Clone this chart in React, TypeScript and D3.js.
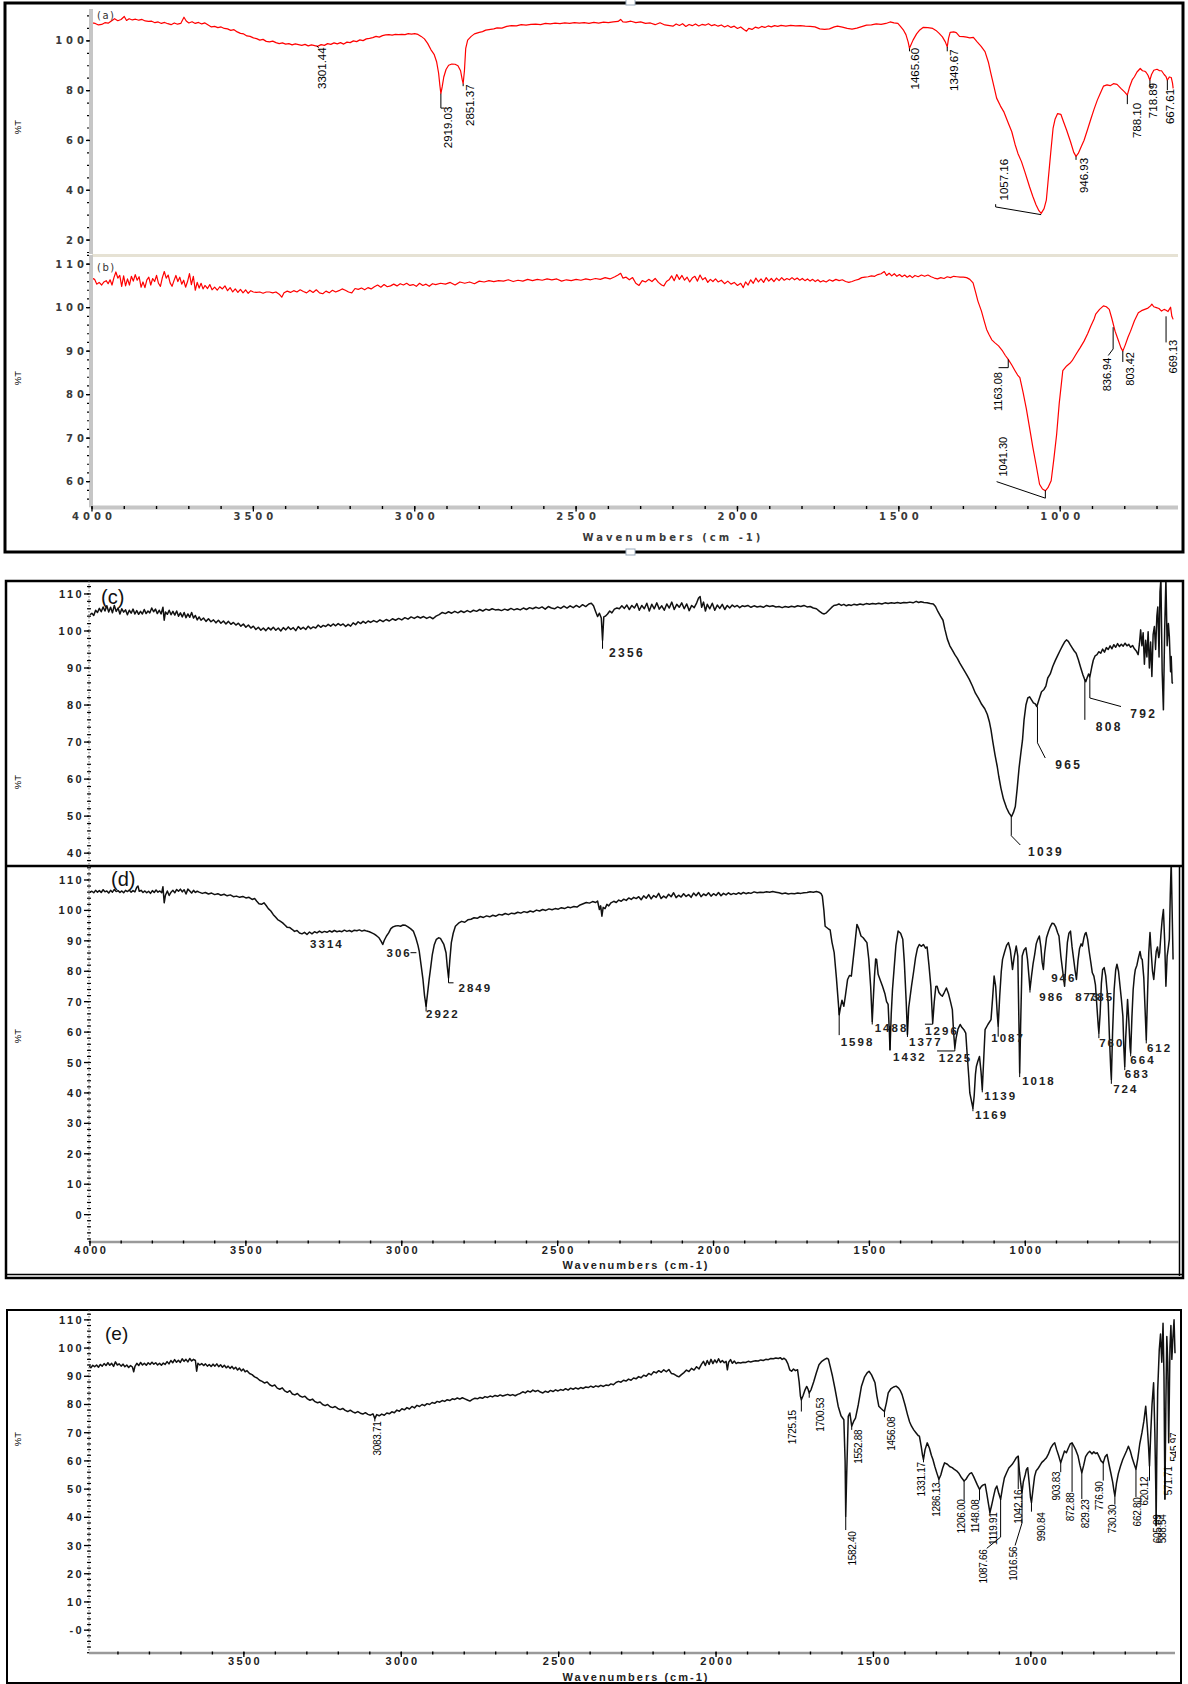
import React from "react";
import * as d3 from "d3";

type P = [number, number];
type Lab = { t: string; x: number; y: number; L?: P[] };

// ---------------- spectra (wavenumber, %T) ----------------
const specA: P[] = [[4000,107.2],[3990,107.0],[3980,106.4],[3970,106.6],[3960,107.3],[3950,107.1],[3940,108.0],[3930,108.9],[3920,108.1],[3910,108.6],[3900,109.8],[3893,108.2],[3885,108.9],[3875,108.4],[3865,108.7],[3855,108.3],[3845,108.6],[3835,108.0],[3825,107.8],[3815,107.9],[3805,107.3],[3795,107.6],[3785,107.0],[3775,107.4],[3765,106.9],[3755,106.5],[3745,107.2],[3735,106.7],[3725,107.0],[3715,109.5],[3708,108.0],[3700,107.2],[3690,107.7],[3680,107.0],[3670,107.4],[3660,106.8],[3650,107.2],[3640,106.4],[3630,105.6],[3620,105.8],[3610,105.3],[3600,105.6],[3590,105.0],[3580,104.8],[3570,104.2],[3560,104.5],[3550,103.6],[3540,103.0],[3530,102.8],[3520,102.0],[3510,101.8],[3500,101.2],[3490,100.9],[3480,100.3],[3470,100.6],[3460,99.8],[3450,99.6],[3440,99.9],[3430,99.3],[3420,98.9],[3410,99.2],[3400,98.7],[3390,98.9],[3380,98.4],[3370,98.8],[3360,98.5],[3350,98.2],[3340,98.6],[3330,98.0],[3320,98.4],[3310,98.1],[3301,97.8],[3290,98.5],[3280,98.2],[3270,98.9],[3260,98.6],[3250,99.2],[3240,98.8],[3230,99.3],[3220,98.7],[3210,99.5],[3200,99.3],[3190,100.0],[3180,99.7],[3170,100.4],[3160,100.1],[3150,100.8],[3140,101.0],[3130,101.3],[3120,101.8],[3110,101.5],[3100,102.1],[3090,102.4],[3080,102.5],[3070,102.3],[3060,102.6],[3050,102.5],[3040,102.6],[3030,102.5],[3020,102.9],[3010,102.7],[3000,102.9],[2990,102.6],[2980,101.8],[2970,100.8],[2960,99.0],[2950,96.5],[2940,94.6],[2932,91.5],[2926,87.0],[2922,82.0],[2919,78.8],[2915,81.5],[2910,85.5],[2903,88.5],[2895,90.2],[2885,90.7],[2875,90.6],[2866,90.0],[2858,88.0],[2853,84.5],[2850,82.8],[2846,88.0],[2842,97.0],[2836,100.3],[2825,101.8],[2815,102.8],[2800,103.4],[2790,103.7],[2780,104.3],[2770,104.5],[2755,104.8],[2745,105.2],[2730,105.1],[2715,105.8],[2700,106.1],[2685,106.0],[2670,106.5],[2655,106.3],[2640,106.6],[2625,106.7],[2610,106.5],[2595,107.0],[2580,106.8],[2565,107.1],[2550,106.9],[2535,107.2],[2520,107.0],[2505,107.3],[2490,107.1],[2475,107.3],[2460,107.0],[2445,107.4],[2430,107.1],[2415,107.5],[2400,107.3],[2385,107.6],[2370,107.8],[2362,108.6],[2355,107.6],[2345,107.5],[2330,107.9],[2315,107.3],[2300,107.6],[2285,107.0],[2270,107.2],[2255,106.5],[2240,107.3],[2225,106.4],[2210,106.1],[2200,105.9],[2190,106.8],[2180,106.2],[2170,106.9],[2160,105.8],[2150,106.6],[2140,106.1],[2130,106.8],[2120,106.0],[2110,106.6],[2100,106.3],[2090,106.9],[2080,106.1],[2070,106.5],[2060,105.9],[2050,106.4],[2040,105.6],[2030,106.2],[2020,105.4],[2010,105.9],[2000,105.0],[1990,105.6],[1980,104.6],[1972,103.9],[1965,105.0],[1955,104.6],[1945,105.5],[1935,105.1],[1925,105.8],[1915,105.4],[1905,106.0],[1895,105.6],[1885,106.1],[1875,105.8],[1865,106.2],[1850,105.9],[1835,106.2],[1820,106.0],[1805,106.1],[1790,105.9],[1775,105.8],[1760,105.6],[1745,104.8],[1730,104.6],[1715,104.8],[1700,105.6],[1690,105.9],[1675,105.5],[1660,105.0],[1645,104.7],[1630,105.1],[1615,105.7],[1600,106.3],[1585,106.4],[1570,106.8],[1555,106.6],[1540,107.0],[1527,107.6],[1515,107.2],[1503,107.0],[1495,105.8],[1485,104.2],[1478,102.5],[1471,99.5],[1467,97.0],[1462,98.5],[1456,100.3],[1445,102.8],[1435,104.4],[1425,105.4],[1410,105.3],[1395,105.0],[1385,104.2],[1375,103.0],[1365,101.6],[1356,99.6],[1350,97.6],[1346,101.0],[1341,103.4],[1330,103.6],[1322,103.3],[1312,101.8],[1300,101.7],[1290,101.5],[1280,101.2],[1269,101.4],[1258,99.7],[1245,97.8],[1233,95.7],[1222,91.2],[1215,87.0],[1205,81.5],[1197,77.0],[1185,73.8],[1175,71.6],[1161,67.0],[1150,63.5],[1140,58.5],[1131,54.8],[1120,51.5],[1110,47.6],[1095,41.4],[1085,37.6],[1075,34.2],[1066,31.8],[1059,30.7],[1050,32.6],[1043,36.0],[1038,43.0],[1033,50.0],[1028,57.0],[1022,65.0],[1016,68.5],[1008,70.8],[998,70.5],[990,67.6],[980,64.1],[968,59.5],[958,55.2],[951,53.6],[944,54.8],[935,57.5],[926,60.1],[915,64.5],[905,68.6],[895,72.6],[885,76.2],[875,79.2],[866,81.8],[855,82.3],[845,82.0],[835,82.8],[824,82.5],[812,80.9],[800,79.4],[792,78.2],[785,81.5],[777,84.3],[770,85.6],[762,87.5],[752,88.9],[745,88.0],[738,87.8],[734,87.4],[728,86.2],[722,84.2],[717,86.5],[710,88.2],[700,88.6],[692,88.0],[686,88.0],[678,86.5],[672,85.6],[668,84.2],[662,85.5],[656,85.3],[652,83.0],[650,80.9]];

const specB: P[] = [[4000,106.8],[3992,106.5],[3985,105.4],[3978,105.8],[3970,105.2],[3963,105.9],[3956,106.2],[3950,105.5],[3944,106.4],[3938,105.2],[3932,106.9],[3926,108.2],[3920,106.8],[3914,107.4],[3908,104.9],[3902,107.3],[3896,105.0],[3890,106.6],[3884,105.2],[3878,107.2],[3872,106.1],[3866,107.6],[3860,106.3],[3854,107.1],[3848,104.7],[3842,105.9],[3836,104.6],[3830,106.4],[3824,107.0],[3818,105.2],[3812,106.7],[3806,106.0],[3800,107.4],[3794,105.6],[3788,104.9],[3782,106.9],[3776,108.3],[3770,106.8],[3764,107.5],[3758,105.7],[3752,104.9],[3746,106.2],[3740,107.4],[3734,106.0],[3728,107.0],[3722,105.4],[3716,106.3],[3710,104.7],[3704,106.0],[3698,107.8],[3692,105.3],[3686,107.2],[3680,104.0],[3674,105.8],[3668,104.5],[3662,105.6],[3656,104.3],[3650,105.1],[3642,104.4],[3635,105.3],[3628,104.1],[3620,104.7],[3612,104.0],[3604,104.8],[3596,104.3],[3588,105.0],[3580,103.9],[3572,104.6],[3564,103.6],[3556,104.3],[3548,103.5],[3540,104.2],[3532,103.4],[3524,104.1],[3516,103.3],[3508,103.9],[3500,103.6],[3490,103.5],[3480,103.6],[3470,103.3],[3460,103.6],[3450,103.6],[3440,103.4],[3430,103.6],[3420,103.1],[3412,102.4],[3405,103.4],[3395,103.8],[3385,103.5],[3375,103.9],[3365,103.6],[3355,104.1],[3345,103.7],[3335,103.4],[3325,104.0],[3315,103.5],[3305,104.1],[3295,103.4],[3285,103.2],[3275,103.8],[3265,103.4],[3255,104.0],[3245,103.6],[3235,103.9],[3225,104.3],[3215,104.0],[3205,103.6],[3195,103.4],[3185,104.4],[3175,104.2],[3165,104.5],[3155,104.1],[3145,104.6],[3135,104.3],[3125,104.8],[3115,105.2],[3105,104.7],[3095,105.3],[3085,104.8],[3075,105.0],[3065,105.4],[3055,105.0],[3045,105.5],[3035,105.2],[3025,105.6],[3015,105.1],[3005,105.3],[2995,104.9],[2985,105.6],[2975,105.1],[2965,105.4],[2955,104.9],[2945,105.5],[2935,105.3],[2920,105.6],[2905,105.4],[2890,105.8],[2875,105.2],[2860,105.9],[2845,105.6],[2830,105.9],[2815,105.5],[2800,106.1],[2785,105.9],[2770,106.2],[2755,106.0],[2740,106.2],[2725,106.1],[2710,106.4],[2695,106.0],[2680,106.3],[2665,106.1],[2650,106.5],[2635,106.2],[2620,106.5],[2605,106.3],[2590,106.6],[2575,106.4],[2560,106.6],[2545,106.1],[2530,106.4],[2515,106.2],[2500,106.5],[2485,106.3],[2470,106.6],[2455,106.4],[2440,106.7],[2425,106.5],[2410,106.9],[2395,106.6],[2380,107.1],[2370,107.5],[2362,107.9],[2355,106.8],[2345,107.0],[2335,106.4],[2325,106.9],[2315,105.6],[2305,105.1],[2295,106.2],[2285,105.9],[2275,106.5],[2265,106.0],[2255,106.7],[2245,105.8],[2235,105.2],[2228,105.0],[2220,106.0],[2212,106.4],[2204,107.3],[2196,106.2],[2188,107.6],[2180,106.5],[2172,107.4],[2164,106.3],[2156,107.0],[2148,105.9],[2140,106.8],[2132,107.2],[2124,106.1],[2116,107.5],[2108,106.4],[2100,106.9],[2092,105.8],[2084,106.5],[2076,106.0],[2068,106.6],[2060,105.9],[2050,106.3],[2040,105.5],[2030,106.1],[2020,105.4],[2010,105.8],[2000,105.1],[1990,105.6],[1982,104.6],[1975,105.9],[1967,105.2],[1959,106.4],[1951,105.6],[1943,106.8],[1935,105.9],[1927,106.6],[1919,105.8],[1911,106.9],[1903,106.1],[1895,106.7],[1887,106.0],[1879,106.8],[1871,106.2],[1863,106.9],[1855,106.3],[1847,106.7],[1839,106.4],[1831,106.9],[1823,106.4],[1815,106.8],[1807,106.3],[1799,106.7],[1791,106.2],[1783,106.6],[1775,106.1],[1767,106.5],[1759,106.0],[1751,106.4],[1743,105.9],[1735,106.2],[1725,105.9],[1715,106.4],[1705,106.1],[1695,106.5],[1685,106.2],[1675,106.4],[1665,106.0],[1655,105.8],[1645,106.0],[1635,106.3],[1625,106.5],[1615,106.9],[1605,107.0],[1595,107.1],[1585,107.3],[1575,107.2],[1565,107.6],[1555,107.8],[1545,108.3],[1538,107.4],[1530,107.9],[1522,107.3],[1514,107.8],[1506,107.2],[1498,107.6],[1490,107.1],[1482,107.5],[1474,107.0],[1466,107.4],[1458,106.9],[1450,107.4],[1440,107.1],[1430,107.5],[1420,107.2],[1410,107.5],[1400,107.1],[1390,106.8],[1380,106.6],[1370,106.9],[1360,106.7],[1350,107.1],[1340,106.9],[1330,107.2],[1320,107.1],[1310,107.0],[1300,107.0],[1290,106.9],[1280,106.5],[1270,105.7],[1262,103.5],[1255,101.5],[1244,99.2],[1235,96.8],[1228,95.0],[1221,93.9],[1212,92.6],[1202,91.9],[1191,91.2],[1180,90.2],[1170,89.0],[1161,88.1],[1150,86.8],[1140,85.5],[1132,84.5],[1125,83.9],[1115,80.5],[1105,76.8],[1095,72.4],[1085,68.0],[1075,64.0],[1064,59.4],[1055,58.3],[1046,57.9],[1038,58.6],[1028,60.2],[1020,65.0],[1011,70.9],[1003,78.0],[992,85.5],[980,86.6],[970,87.2],[963,87.8],[950,89.4],[938,90.8],[926,92.3],[915,94.0],[905,95.8],[895,97.4],[890,98.5],[878,99.6],[866,100.4],[857,100.2],[848,99.6],[840,97.5],[830,94.6],[820,92.5],[812,90.8],[806,90.0],[798,91.5],[790,93.2],[782,94.6],[770,97.0],[758,98.8],[748,99.3],[738,99.6],[728,99.9],[720,100.4],[716,100.8],[710,100.2],[702,100.0],[694,99.8],[686,99.2],[678,99.6],[672,99.4],[666,99.1],[662,99.6],[658,100.1],[654,98.0],[650,97.3]];

const specC: P[] = [[4000,104.4],[3994,104.8],[3988,104.2],[3982,105.6],[3976,105.0],[3970,106.1],[3964,105.2],[3958,106.5],[3952,105.4],[3946,106.8],[3940,105.1],[3934,106.4],[3928,104.9],[3922,106.9],[3916,105.3],[3910,106.2],[3904,104.6],[3898,106.0],[3892,105.1],[3886,105.7],[3880,104.4],[3874,105.6],[3868,104.8],[3862,105.9],[3856,104.6],[3850,105.5],[3844,104.5],[3838,105.3],[3832,104.6],[3826,105.8],[3820,104.7],[3814,105.4],[3808,104.9],[3802,106.2],[3796,105.2],[3790,105.9],[3784,104.7],[3778,105.6],[3772,104.6],[3766,106.4],[3762,102.9],[3758,105.1],[3752,104.5],[3746,105.6],[3740,104.4],[3734,105.3],[3728,104.3],[3722,105.4],[3716,104.0],[3710,104.9],[3704,103.8],[3698,105.0],[3692,103.6],[3686,104.6],[3680,103.7],[3674,105.0],[3668,103.5],[3662,104.2],[3656,103.0],[3650,103.8],[3644,102.9],[3636,103.5],[3628,102.6],[3620,103.3],[3612,102.5],[3604,103.0],[3596,102.2],[3588,102.9],[3580,102.1],[3572,102.7],[3564,101.9],[3556,102.6],[3548,101.8],[3540,102.3],[3532,101.6],[3524,102.1],[3516,101.3],[3508,101.9],[3500,101.0],[3492,101.6],[3484,100.8],[3476,101.3],[3468,100.4],[3460,101.0],[3452,100.2],[3444,100.8],[3436,100.1],[3428,100.9],[3420,100.3],[3412,101.0],[3404,100.2],[3396,100.8],[3388,100.0],[3380,100.9],[3372,100.3],[3364,101.1],[3356,100.4],[3348,100.9],[3340,100.1],[3332,101.2],[3324,100.5],[3316,101.0],[3308,100.4],[3300,101.3],[3292,100.6],[3284,101.1],[3276,100.8],[3268,101.6],[3260,101.0],[3252,101.5],[3244,101.2],[3236,101.8],[3228,101.3],[3220,101.9],[3212,101.4],[3204,102.0],[3196,101.5],[3188,101.9],[3180,101.2],[3172,101.8],[3164,101.3],[3156,102.2],[3148,101.7],[3140,102.5],[3132,102.0],[3124,102.6],[3116,102.1],[3108,102.7],[3100,102.3],[3090,102.8],[3080,102.4],[3070,103.0],[3060,102.5],[3050,103.1],[3040,102.7],[3030,103.3],[3020,102.9],[3010,103.4],[3000,103.0],[2990,103.6],[2980,103.2],[2970,103.8],[2960,103.4],[2950,103.9],[2940,103.5],[2930,103.9],[2920,103.4],[2910,103.8],[2900,103.3],[2890,104.0],[2880,104.4],[2870,105.0],[2860,104.7],[2850,105.2],[2840,104.8],[2830,105.3],[2820,104.9],[2810,105.4],[2800,105.0],[2790,105.5],[2780,105.1],[2770,105.6],[2760,105.3],[2750,105.8],[2740,105.4],[2730,105.9],[2720,105.6],[2710,106.0],[2700,105.7],[2690,105.8],[2680,105.5],[2670,105.9],[2660,105.6],[2650,106.1],[2640,105.7],[2630,106.0],[2620,105.7],[2610,106.2],[2600,105.8],[2590,106.3],[2580,106.0],[2570,106.4],[2560,106.1],[2550,106.5],[2540,105.9],[2530,106.6],[2520,106.2],[2510,106.0],[2500,106.5],[2490,106.1],[2480,106.7],[2470,106.2],[2460,106.8],[2450,106.3],[2440,106.9],[2430,106.4],[2420,107.1],[2410,106.6],[2400,107.3],[2392,107.5],[2385,106.8],[2378,105.2],[2372,103.9],[2366,104.8],[2360,103.5],[2356,97.5],[2352,103.8],[2347,104.0],[2340,104.6],[2333,105.4],[2326,104.9],[2318,105.9],[2310,106.2],[2302,106.0],[2294,106.8],[2286,106.1],[2278,107.0],[2270,105.8],[2262,106.9],[2254,106.2],[2246,107.4],[2238,105.6],[2230,106.9],[2222,106.0],[2214,107.5],[2206,105.4],[2198,107.2],[2190,106.0],[2182,107.6],[2174,105.9],[2166,106.8],[2158,105.6],[2150,107.3],[2142,106.2],[2134,107.8],[2126,105.8],[2118,107.2],[2110,106.4],[2102,107.6],[2094,106.0],[2086,107.3],[2078,105.5],[2070,106.9],[2062,106.3],[2054,107.6],[2048,108.9],[2043,109.3],[2038,106.4],[2032,107.8],[2026,105.4],[2020,107.2],[2012,106.0],[2004,107.5],[1996,105.6],[1988,107.0],[1980,106.1],[1972,107.2],[1964,105.8],[1956,106.9],[1948,106.2],[1940,107.0],[1932,106.5],[1924,106.9],[1916,106.3],[1908,106.8],[1900,106.6],[1890,106.9],[1880,106.4],[1870,106.8],[1860,106.5],[1850,106.7],[1840,106.4],[1830,106.9],[1820,106.6],[1810,106.8],[1800,106.5],[1790,106.6],[1780,106.3],[1770,106.6],[1760,106.4],[1750,106.7],[1740,106.5],[1730,106.8],[1720,106.6],[1710,106.9],[1700,106.5],[1690,106.6],[1680,106.2],[1670,106.0],[1660,105.3],[1652,104.8],[1645,104.6],[1638,104.9],[1630,105.6],[1622,106.3],[1614,106.9],[1606,107.0],[1598,107.3],[1590,106.9],[1582,107.2],[1574,106.8],[1566,107.1],[1558,106.9],[1550,107.2],[1540,107.0],[1530,107.3],[1520,107.1],[1510,107.4],[1500,107.2],[1490,107.4],[1480,107.3],[1470,107.5],[1460,107.3],[1450,107.6],[1440,107.4],[1430,107.6],[1420,107.5],[1410,107.7],[1400,107.5],[1390,107.7],[1380,107.6],[1370,107.8],[1360,107.6],[1350,108.0],[1342,107.7],[1335,107.9],[1325,107.7],[1315,107.6],[1305,107.4],[1295,107.3],[1288,106.6],[1280,105.2],[1272,104.0],[1264,102.9],[1258,100.5],[1250,97.8],[1242,96.0],[1234,94.8],[1226,93.6],[1218,92.6],[1210,91.3],[1200,89.9],[1190,88.5],[1180,87.0],[1170,85.2],[1160,83.2],[1150,81.8],[1140,80.2],[1130,79.0],[1122,77.5],[1115,75.4],[1110,73.3],[1104,70.0],[1097,66.5],[1090,63.4],[1085,60.7],[1078,57.5],[1070,54.6],[1060,52.2],[1052,50.8],[1044,49.9],[1038,51.0],[1032,52.6],[1026,57.5],[1020,63.0],[1014,67.2],[1009,70.5],[1004,76.0],[998,80.0],[992,81.9],[986,82.2],[980,81.4],[974,80.6],[968,80.3],[963,79.6],[956,81.5],[948,83.6],[940,84.2],[934,85.1],[928,87.3],[920,88.4],[912,90.4],[904,92.0],[896,93.4],[888,94.8],[880,96.1],[874,97.0],[868,97.6],[862,97.2],[856,96.3],[850,95.5],[843,94.6],[837,94.0],[830,92.3],[822,90.0],[815,88.1],[810,87.0],[806,86.3],[802,87.3],[797,88.4],[793,87.6],[787,90.2],[782,92.1],[776,93.3],[770,93.6],[764,94.4],[758,94.0],[752,95.1],[746,94.3],[740,95.5],[734,95.0],[728,96.0],[722,95.2],[716,96.3],[710,95.6],[704,96.6],[698,95.8],[692,96.4],[686,95.9],[680,96.7],[674,96.0],[668,96.4],[662,95.6],[656,96.1],[650,95.2],[644,94.6],[638,93.6],[634,96.5],[630,100.3],[626,96.0],[622,99.5],[618,91.0],[614,97.5],[610,93.0],[606,99.8],[602,90.0],[598,97.0],[594,87.7],[590,99.0],[586,101.2],[582,95.0],[578,104.0],[575,106.5],[571,93.0],[568,110.5],[565,114.0],[561,89.0],[557,78.7],[553,100.0],[549,114.0],[545,96.0],[541,102.0],[538,98.5],[534,89.0],[532,93.1],[529,86.0],[526,85.9]];

const specD: P[] = [[4000,106.0],[3994,106.3],[3988,105.8],[3982,106.6],[3976,106.0],[3970,106.5],[3964,105.9],[3958,106.8],[3952,106.1],[3946,106.4],[3940,105.7],[3934,106.6],[3928,106.0],[3922,106.9],[3916,106.2],[3910,106.5],[3904,105.9],[3898,106.4],[3892,105.8],[3886,106.6],[3880,106.2],[3874,106.7],[3868,106.0],[3862,106.5],[3856,106.1],[3850,107.6],[3846,108.0],[3842,106.3],[3836,106.6],[3830,105.9],[3824,106.4],[3818,105.8],[3812,106.3],[3806,105.6],[3800,106.5],[3794,105.9],[3788,106.7],[3782,106.0],[3776,106.4],[3770,105.8],[3766,107.8],[3762,102.5],[3758,105.0],[3752,106.4],[3746,104.9],[3740,106.0],[3734,106.6],[3728,105.8],[3722,106.9],[3716,106.3],[3710,107.0],[3704,106.1],[3698,106.8],[3692,105.4],[3686,107.0],[3680,106.4],[3674,105.7],[3668,106.6],[3662,105.9],[3656,106.3],[3650,106.0],[3640,105.6],[3630,105.9],[3620,105.4],[3610,105.7],[3600,105.2],[3590,105.5],[3580,105.0],[3570,105.3],[3560,104.8],[3550,105.1],[3540,104.5],[3530,104.7],[3520,104.3],[3510,104.6],[3500,104.1],[3490,104.3],[3480,103.6],[3472,103.9],[3465,103.0],[3458,102.2],[3450,102.0],[3442,102.5],[3435,101.6],[3428,100.6],[3420,99.8],[3412,98.6],[3405,97.8],[3398,97.0],[3390,96.5],[3382,95.9],[3375,95.2],[3368,94.5],[3360,94.4],[3352,93.8],[3344,93.1],[3336,93.4],[3328,92.6],[3320,92.3],[3312,92.8],[3304,92.1],[3296,92.9],[3288,92.3],[3280,93.0],[3272,92.6],[3264,93.2],[3256,92.7],[3248,93.1],[3240,92.8],[3232,93.3],[3224,92.9],[3216,93.4],[3208,93.0],[3200,93.2],[3192,93.0],[3184,93.5],[3176,93.1],[3168,93.4],[3160,93.0],[3152,93.5],[3144,93.3],[3136,93.6],[3128,93.2],[3120,93.5],[3112,93.2],[3104,93.0],[3096,92.6],[3088,92.2],[3080,91.6],[3073,91.0],[3066,89.8],[3061,88.8],[3056,90.2],[3049,91.6],[3042,92.6],[3035,94.0],[3028,94.6],[3020,94.9],[3012,95.0],[3004,94.8],[2996,95.2],[2988,95.1],[2980,94.6],[2972,94.0],[2963,93.2],[2955,91.0],[2948,88.5],[2944,86.6],[2938,82.0],[2932,77.3],[2927,72.0],[2922,68.5],[2917,73.0],[2912,77.5],[2908,80.6],[2902,85.5],[2896,88.6],[2889,90.5],[2882,91.0],[2876,90.8],[2871,89.9],[2865,88.8],[2858,86.1],[2854,81.5],[2850,77.8],[2846,83.5],[2841,89.4],[2835,92.5],[2828,94.8],[2818,95.8],[2808,96.4],[2798,96.1],[2788,96.9],[2778,97.1],[2768,97.6],[2758,97.4],[2748,98.0],[2738,97.7],[2728,98.2],[2718,97.9],[2708,98.4],[2698,98.1],[2688,98.7],[2678,98.5],[2668,99.0],[2658,98.6],[2648,99.1],[2638,98.9],[2628,99.4],[2618,99.1],[2608,99.6],[2598,99.3],[2588,99.8],[2578,99.5],[2568,100.1],[2558,99.8],[2548,100.3],[2538,100.0],[2528,100.5],[2518,100.2],[2508,100.6],[2498,100.4],[2488,100.9],[2478,100.6],[2468,101.1],[2458,100.9],[2448,101.3],[2438,101.1],[2428,101.8],[2418,102.2],[2408,102.6],[2398,102.4],[2388,102.9],[2378,102.6],[2372,103.1],[2366,100.3],[2362,101.5],[2358,98.1],[2354,101.0],[2348,100.6],[2342,102.0],[2336,101.5],[2329,102.5],[2320,103.0],[2312,102.6],[2304,103.4],[2296,103.0],[2288,103.7],[2280,103.3],[2272,104.1],[2264,103.6],[2256,104.3],[2248,103.9],[2240,104.5],[2232,103.5],[2224,104.8],[2216,104.0],[2208,105.2],[2200,103.8],[2192,104.9],[2184,104.3],[2176,105.6],[2168,103.9],[2160,104.7],[2152,104.1],[2144,105.3],[2136,104.5],[2128,105.8],[2120,104.2],[2112,105.0],[2104,104.4],[2096,105.5],[2088,104.6],[2080,105.2],[2072,104.3],[2064,105.7],[2056,104.8],[2048,105.9],[2040,104.5],[2032,105.4],[2024,104.9],[2016,105.8],[2008,104.7],[2000,105.5],[1992,104.9],[1984,105.9],[1976,104.8],[1968,105.6],[1960,105.1],[1952,105.8],[1944,105.2],[1936,105.6],[1928,105.3],[1920,105.8],[1912,105.4],[1904,105.9],[1896,105.5],[1888,105.8],[1880,105.6],[1870,106.1],[1860,105.8],[1850,106.0],[1840,105.9],[1830,106.1],[1820,106.0],[1810,106.2],[1800,106.0],[1790,105.8],[1780,105.5],[1770,105.7],[1760,105.4],[1750,105.6],[1740,105.5],[1730,105.7],[1720,105.6],[1710,105.8],[1700,105.9],[1690,106.1],[1680,106.0],[1670,106.2],[1662,106.0],[1655,105.5],[1651,104.7],[1646,100.0],[1642,94.8],[1636,94.3],[1630,93.8],[1626,93.6],[1620,89.5],[1613,86.1],[1606,78.0],[1600,70.0],[1597,65.7],[1593,68.0],[1588,70.5],[1582,68.5],[1577,72.0],[1570,77.3],[1564,78.6],[1558,78.4],[1552,84.0],[1546,89.5],[1540,95.4],[1534,94.0],[1527,91.6],[1520,91.0],[1514,90.2],[1508,89.4],[1502,84.0],[1496,75.0],[1491,63.5],[1487,72.0],[1484,78.0],[1480,84.0],[1477,83.9],[1472,79.0],[1466,77.3],[1458,75.1],[1450,72.5],[1445,70.0],[1440,69.1],[1436,60.0],[1434,54.2],[1430,66.0],[1426,74.0],[1421,80.6],[1415,88.5],[1408,93.2],[1400,92.5],[1393,90.5],[1388,83.0],[1382,70.0],[1378,59.2],[1374,68.0],[1369,72.0],[1365,75.1],[1358,80.0],[1352,84.5],[1346,87.5],[1340,88.8],[1333,88.2],[1327,88.8],[1320,87.6],[1315,88.0],[1309,82.0],[1303,75.1],[1297,63.0],[1292,70.0],[1287,75.0],[1283,75.1],[1277,73.0],[1271,72.2],[1266,71.8],[1260,73.0],[1253,74.5],[1246,72.5],[1240,70.0],[1234,67.4],[1230,60.0],[1226,54.8],[1222,58.0],[1216,61.0],[1209,62.5],[1203,61.5],[1197,60.8],[1191,59.7],[1186,52.0],[1181,45.0],[1178,40.0],[1172,37.0],[1168,35.0],[1164,39.0],[1160,46.0],[1157,48.7],[1152,50.5],[1147,52.0],[1142,47.0],[1138,41.1],[1133,52.0],[1129,60.8],[1120,62.5],[1110,64.1],[1105,71.0],[1100,78.4],[1095,75.0],[1090,66.0],[1087,61.9],[1082,72.0],[1077,80.0],[1073,83.9],[1066,86.5],[1060,88.5],[1054,89.4],[1048,87.0],[1043,82.5],[1041,80.6],[1036,84.5],[1029,88.3],[1024,85.0],[1020,60.0],[1018,46.6],[1015,62.0],[1010,85.0],[1004,87.0],[998,87.7],[993,84.0],[988,78.0],[985,74.0],[980,78.5],[975,82.5],[970,85.5],[965,89.0],[960,90.5],[955,91.6],[950,88.0],[946,83.0],[942,80.6],[938,86.0],[932,91.0],[926,93.0],[920,94.6],[914,95.8],[908,95.6],[902,94.5],[896,92.6],[892,91.6],[886,85.0],[880,80.0],[874,75.1],[870,82.0],[865,89.5],[860,92.5],[855,93.2],[850,88.0],[845,84.0],[840,80.0],[836,77.3],[831,83.5],[826,87.5],[821,89.0],[817,88.3],[812,91.0],[808,92.4],[805,92.7],[800,90.5],[795,86.5],[790,83.0],[785,79.5],[780,78.4],[775,75.5],[770,68.0],[766,62.0],[764,59.7],[760,66.0],[756,76.0],[752,80.5],[747,81.2],[742,78.5],[738,74.0],[734,69.6],[730,58.0],[726,48.0],[724,44.4],[720,60.0],[715,74.0],[710,80.5],[706,82.3],[701,80.0],[696,75.0],[692,71.0],[687,65.2],[684,55.0],[681,48.7],[678,58.0],[675,64.0],[672,70.7],[668,64.0],[664,55.0],[662,53.1],[658,65.0],[654,74.0],[650,78.5],[647,80.6],[642,82.0],[637,84.5],[632,86.5],[628,84.2],[625,83.9],[620,78.0],[616,68.0],[612,57.5],[608,72.0],[604,86.0],[600,92.7],[596,86.0],[592,80.0],[588,77.3],[584,82.0],[580,86.5],[576,88.0],[572,84.5],[569,86.1],[565,92.0],[561,97.0],[557,100.3],[553,90.0],[549,75.1],[545,85.0],[541,88.0],[538,90.5],[535,105.0],[532,116.0],[529,100.0],[526,83.9]];

const specE: P[] = [[3992,93.7],[3986,93.0],[3980,93.9],[3974,93.4],[3968,94.0],[3962,93.2],[3956,94.2],[3950,93.6],[3944,94.5],[3938,93.8],[3932,94.8],[3926,93.9],[3920,94.6],[3914,93.5],[3908,95.1],[3902,94.0],[3896,94.4],[3890,93.6],[3884,94.3],[3878,93.4],[3872,94.0],[3866,93.1],[3860,93.8],[3854,93.3],[3850,91.6],[3846,93.5],[3840,94.6],[3834,93.8],[3828,94.9],[3822,94.0],[3816,94.6],[3810,93.9],[3804,94.8],[3798,94.2],[3792,95.0],[3786,94.3],[3780,94.8],[3774,94.0],[3768,94.6],[3762,93.9],[3756,94.7],[3750,94.2],[3744,95.2],[3738,94.4],[3732,95.6],[3726,94.8],[3720,95.9],[3714,95.0],[3708,95.7],[3702,94.9],[3696,96.2],[3690,95.3],[3684,96.0],[3678,95.1],[3672,96.3],[3666,95.4],[3660,96.0],[3654,95.6],[3650,91.8],[3646,94.6],[3640,94.0],[3634,94.5],[3628,93.8],[3622,94.4],[3616,93.6],[3610,94.2],[3604,93.5],[3598,94.3],[3592,93.6],[3586,94.4],[3580,93.4],[3574,94.1],[3568,93.2],[3562,93.9],[3556,93.0],[3550,93.6],[3544,92.8],[3538,93.5],[3532,92.6],[3526,93.2],[3520,92.2],[3514,92.9],[3508,91.9],[3502,92.6],[3496,91.6],[3490,92.0],[3482,91.0],[3474,90.6],[3466,89.8],[3458,89.4],[3450,88.6],[3442,88.2],[3434,87.6],[3426,88.0],[3418,87.0],[3410,86.5],[3402,86.9],[3394,85.8],[3386,85.4],[3378,85.9],[3370,84.8],[3362,84.3],[3354,84.9],[3346,83.7],[3338,83.4],[3330,83.9],[3322,83.0],[3314,82.6],[3306,82.9],[3298,82.0],[3290,81.5],[3282,81.9],[3274,81.0],[3266,80.6],[3258,80.9],[3250,80.0],[3242,79.6],[3234,80.0],[3226,79.2],[3218,78.9],[3210,79.3],[3202,78.6],[3194,78.2],[3186,78.6],[3178,77.9],[3170,77.5],[3162,78.0],[3154,77.4],[3146,77.0],[3138,77.5],[3130,76.9],[3122,76.6],[3114,77.1],[3106,76.5],[3098,76.2],[3090,76.7],[3084,75.0],[3078,76.4],[3070,76.0],[3062,76.6],[3054,76.2],[3046,77.0],[3038,76.7],[3030,77.4],[3022,77.1],[3014,78.0],[3006,77.6],[2998,78.5],[2990,78.1],[2982,78.9],[2974,78.4],[2966,79.3],[2958,78.8],[2950,79.7],[2942,79.3],[2934,80.0],[2926,79.6],[2918,80.3],[2910,80.0],[2902,80.7],[2894,80.4],[2886,81.1],[2878,80.8],[2870,81.4],[2862,81.1],[2854,81.7],[2846,81.4],[2838,82.0],[2830,81.8],[2822,82.3],[2814,81.9],[2806,82.4],[2798,82.0],[2790,81.6],[2782,81.2],[2774,81.8],[2766,82.2],[2758,82.0],[2750,82.5],[2742,82.2],[2734,82.8],[2726,82.5],[2718,83.0],[2710,82.7],[2702,83.2],[2694,82.9],[2686,83.4],[2678,83.0],[2670,83.3],[2662,83.6],[2654,83.2],[2646,83.5],[2638,83.1],[2630,83.6],[2622,83.9],[2614,84.5],[2606,84.1],[2598,84.8],[2590,84.4],[2582,85.1],[2574,84.6],[2566,85.0],[2558,84.4],[2550,84.1],[2542,84.7],[2534,84.3],[2526,85.0],[2518,84.6],[2510,85.2],[2502,84.8],[2494,85.3],[2486,85.0],[2478,85.6],[2470,85.1],[2462,85.8],[2454,85.4],[2446,85.9],[2438,85.5],[2430,86.0],[2422,85.7],[2414,86.2],[2406,86.0],[2398,86.5],[2390,86.1],[2382,86.6],[2374,86.3],[2366,86.8],[2358,86.4],[2350,86.9],[2342,86.7],[2334,87.3],[2326,87.0],[2318,87.8],[2310,88.2],[2302,87.9],[2294,88.6],[2286,88.3],[2278,89.0],[2270,88.6],[2262,89.4],[2254,89.1],[2246,89.9],[2238,89.5],[2230,90.4],[2222,90.0],[2214,91.0],[2206,90.5],[2198,91.6],[2190,91.2],[2182,92.0],[2174,91.4],[2166,92.3],[2158,91.6],[2150,92.4],[2142,91.0],[2134,90.8],[2126,90.2],[2118,89.8],[2110,90.6],[2102,91.3],[2094,92.2],[2086,91.7],[2078,92.8],[2070,92.2],[2062,93.4],[2054,92.6],[2046,94.3],[2040,95.3],[2034,93.8],[2028,95.6],[2022,94.2],[2016,96.0],[2010,94.5],[2004,95.8],[1998,94.8],[1992,96.2],[1986,94.9],[1980,95.6],[1974,94.8],[1968,95.3],[1964,92.3],[1960,95.0],[1954,95.9],[1948,94.6],[1942,95.4],[1936,94.5],[1930,94.9],[1922,94.7],[1914,95.0],[1906,94.9],[1898,95.3],[1890,95.1],[1882,95.3],[1874,95.5],[1866,95.4],[1858,95.8],[1850,95.6],[1842,96.0],[1834,95.9],[1826,96.3],[1818,96.2],[1810,96.5],[1802,96.3],[1796,96.6],[1790,96.0],[1784,96.4],[1778,95.8],[1772,94.5],[1766,92.3],[1760,91.8],[1754,92.6],[1748,92.0],[1741,92.3],[1736,88.0],[1732,83.0],[1729,81.7],[1724,83.0],[1718,85.0],[1712,86.4],[1708,85.5],[1704,84.1],[1698,85.3],[1690,88.0],[1682,91.0],[1673,94.1],[1664,95.3],[1655,96.0],[1648,96.4],[1643,96.1],[1638,93.8],[1630,90.0],[1622,85.5],[1612,79.4],[1603,76.0],[1594,74.6],[1590,60.0],[1588,40.4],[1585,55.0],[1580,75.8],[1575,77.0],[1569,72.3],[1563,74.0],[1557,75.2],[1548,80.0],[1538,86.5],[1528,89.8],[1520,91.2],[1514,91.8],[1506,90.5],[1500,89.0],[1495,87.7],[1489,83.0],[1483,79.4],[1475,78.5],[1468,77.8],[1465,77.6],[1459,80.5],[1453,84.1],[1445,85.5],[1436,86.2],[1428,86.5],[1420,85.8],[1414,84.8],[1409,83.5],[1400,80.0],[1392,76.5],[1385,73.8],[1379,72.3],[1372,71.0],[1365,70.0],[1358,69.0],[1354,68.8],[1348,65.0],[1344,62.0],[1341,60.5],[1336,64.0],[1329,66.4],[1322,64.5],[1316,62.0],[1311,60.5],[1305,58.0],[1298,55.5],[1292,53.5],[1286,55.0],[1280,57.5],[1274,59.3],[1265,58.8],[1258,58.0],[1250,57.6],[1243,57.0],[1236,56.5],[1228,55.5],[1220,54.0],[1212,52.9],[1206,53.5],[1200,54.6],[1194,55.5],[1188,55.8],[1182,54.5],[1176,53.0],[1170,51.5],[1163,49.9],[1157,51.0],[1151,51.5],[1145,51.7],[1140,48.5],[1135,45.0],[1130,41.7],[1125,44.0],[1118,47.6],[1113,50.0],[1108,51.1],[1102,48.5],[1096,46.4],[1090,50.5],[1084,54.0],[1077,55.8],[1070,57.5],[1064,58.2],[1059,58.8],[1052,60.0],[1046,61.2],[1040,61.7],[1036,56.0],[1032,52.0],[1028,48.7],[1024,52.5],[1018,55.0],[1014,57.0],[1010,57.6],[1005,52.0],[1001,47.0],[998,45.2],[993,50.0],[988,54.5],[983,56.5],[979,57.0],[972,58.2],[965,59.5],[958,60.2],[951,61.0],[944,62.5],[937,64.5],[930,65.8],[924,66.4],[918,64.0],[912,62.0],[905,59.3],[899,61.5],[893,63.5],[887,62.9],[881,64.5],[875,66.0],[869,66.4],[863,65.2],[857,63.8],[850,61.7],[844,58.5],[838,55.8],[832,58.5],[826,61.5],[820,62.6],[813,63.4],[806,62.5],[800,63.2],[794,62.6],[789,62.9],[783,61.5],[777,60.0],[770,59.3],[764,61.5],[758,62.3],[752,59.0],[746,55.8],[740,52.5],[736,49.5],[733,47.6],[728,52.0],[722,55.5],[715,58.2],[708,60.5],[702,62.0],[696,63.5],[690,65.2],[684,63.5],[678,61.0],[672,59.0],[666,57.0],[660,61.0],[654,66.0],[647,70.0],[641,74.0],[635,79.4],[630,72.0],[626,65.0],[623,58.2],[619,70.0],[615,80.0],[610,87.7],[606,70.0],[603,50.0],[602,37.0],[600,60.0],[597,85.0],[592,99.4],[588,105.0],[584,95.0],[580,108.8],[577,90.0],[574,46.4],[571,80.0],[568,104.1],[565,95.0],[562,66.4],[558,100.0],[555,108.0],[552,96.0],[549,102.9],[545,110.0],[542,98.2]];

// ---------------- peak annotations ----------------
const labelsA: Lab[] = [
  { t: "3301.44", x: 3288, y: 97.4, L: [[3303, 98.0], [3298, 97.2]] },
  { t: "2919.03", x: 2897, y: 73.6, L: [[2919, 78.8], [2919, 73.0], [2908, 73.0]] },
  { t: "2851.37", x: 2829, y: 82.5, L: [[2850, 82.8], [2850, 81.8]] },
  { t: "1465.60", x: 1450, y: 97.2, L: [[1467, 97.0], [1467, 95.8]] },
  { t: "1349.67", x: 1329, y: 96.6, L: [[1350, 97.6], [1350, 95.8]] },
  { t: "1057.16", x: 1173, y: 52.6, L: [[1200, 34.4], [1200, 33.3], [1059, 30.2]] },
  { t: "946.93", x: 926, y: 53.0, L: [[951, 53.6], [951, 52.2]] },
  { t: "788.10", x: 762, y: 75.1, L: [[792, 78.2], [792, 74.6]] },
  { t: "718.89", x: 712, y: 83.1, L: [[722, 84.2], [722, 81.6], [713, 81.6]] },
  { t: "667.61", x: 660, y: 80.7, L: [[668, 84.2], [668, 80.2]] },
];
const labelsB: Lab[] = [
  { t: "1163.08", x: 1192, y: 85.2, L: [[1161, 88.1], [1161, 86.2], [1191, 86.2]] },
  { t: "1041.30", x: 1178, y: 70.3, L: [[1197, 60.0], [1046, 56.2], [1046, 58.0]] },
  { t: "836.94", x: 855, y: 88.5, L: [[836, 95.5], [836, 90.5], [851, 89.0]] },
  { t: "803.42", x: 783, y: 89.8, L: [[806, 90.0], [806, 87.5]] },
  { t: "669.13", x: 650, y: 92.6, L: [[672, 98.0], [672, 92.0]] },
];
const labelsC: Lab[] = [
  { t: "2356", x: 2335, y: 94.1, L: [[2356, 97.5], [2356, 95.2]] },
  { t: "1039", x: 991, y: 40.2, L: [[1045, 50.0], [1045, 44.7], [1016, 42.2]] },
  { t: "965", x: 904, y: 63.8, L: [[961, 79.6], [961, 69.8], [936, 65.7]] },
  { t: "808", x: 774, y: 74.2, L: [[809, 87.0], [809, 76.0]] },
  { t: "792", x: 663, y: 77.6, L: [[793, 87.6], [793, 81.9], [693, 79.6]] },
];
const labelsD: Lab[] = [
  { t: "3314", x: 3294, y: 88.9 },
  { t: "306", x: 3049, y: 86.1, L: [[2972, 86.1], [2953, 86.1]] },
  { t: "2922", x: 2922, y: 65.9, L: [[2922, 70.5], [2922, 66.8]] },
  { t: "2849", x: 2818, y: 74.5, L: [[2850, 80], [2850, 76.2], [2834, 76.2]] },
  { t: "1598", x: 1592, y: 56.7, L: [[1597, 68], [1597, 59]] },
  { t: "1488", x: 1483, y: 61.3, L: [[1491, 63.5], [1491, 62.5]] },
  { t: "1432", x: 1424, y: 51.8, L: [[1434, 62], [1434, 54]] },
  { t: "1377", x: 1373, y: 56.7, L: [[1378, 63.9], [1378, 58.4]] },
  { t: "1296", x: 1321, y: 60.4, L: [[1297, 63], [1297, 62.6], [1322, 62.6]] },
  { t: "1225", x: 1278, y: 51.6, L: [[1226, 54.8], [1226, 53.8], [1283, 53.8]] },
  { t: "1169", x: 1161, y: 32.6, L: [[1168, 35], [1168, 34]] },
  { t: "1139", x: 1132, y: 38.9, L: [[1138, 41.1], [1138, 40.2]] },
  { t: "1087", x: 1109, y: 58.2, L: [[1087, 61.9], [1087, 58.5]] },
  { t: "1018", x: 1010, y: 43.9, L: [[1018, 46.6], [1018, 45.2]] },
  { t: "946", x: 917, y: 77.9 },
  { t: "986", x: 955, y: 71.6, L: [[985, 74.0], [985, 73.0]] },
  { t: "873", x: 840, y: 71.6 },
  { t: "785", x: 796, y: 71.6 },
  { t: "760", x: 763, y: 56.4, L: [[764, 59.7], [764, 58]] },
  { t: "724", x: 718, y: 41.4, L: [[724, 44.4], [724, 43]] },
  { t: "683", x: 681, y: 46.1, L: [[681, 48.7], [681, 47.5]] },
  { t: "664", x: 663, y: 50.7, L: [[662, 53.1], [662, 52]] },
  { t: "612", x: 610, y: 54.9, L: [[612, 57.5], [612, 56.3]] },
];
const labelsE: Lab[] = [
  { t: "3083.71", x: 3076, y: 74.0, L: [[3084, 75.0], [3084, 74.0]] },
  { t: "1725.15", x: 1756, y: 78.0, L: [[1729, 81.7], [1729, 77.5]] },
  { t: "1700.53", x: 1668, y: 82.4, L: [[1704, 84.1], [1704, 82.4]] },
  { t: "1582.40", x: 1565, y: 35.0, L: [[1588, 40.4], [1588, 35.5]] },
  { t: "1552.88", x: 1548, y: 71.1, L: [[1569, 72.3], [1569, 71.0]] },
  { t: "1456.08", x: 1442, y: 75.7, L: [[1465, 77.6], [1465, 75.5]] },
  { t: "1331.17", x: 1348, y: 59.5, L: [[1341, 60.5], [1341, 59.5]] },
  { t: "1286.13", x: 1299, y: 52.3, L: [[1292, 53.5], [1292, 52.0]] },
  { t: "1206.00", x: 1219, y: 46.3, L: [[1212, 52.9], [1212, 46.0]] },
  { t: "1148.08", x: 1176, y: 46.3, L: [[1163, 49.9], [1163, 46.0]] },
  { t: "1119.91", x: 1120, y: 41.7, L: [[1130, 41.7], [1130, 41.0]] },
  { t: "1087.66", x: 1151, y: 28.6, L: [[1096, 46.4], [1096, 33], [1140, 29]] },
  { t: "1042.16", x: 1040, y: 49.8, L: [[1040, 61.7], [1040, 50]] },
  { t: "1016.56", x: 1056, y: 29.6, L: [[1028, 48.7], [1028, 38], [1050, 30]] },
  { t: "990.84", x: 967, y: 41.7, L: [[998, 45.2], [998, 42]] },
  { t: "903.83", x: 918, y: 56.2, L: [[905, 59.3], [905, 56]] },
  { t: "872.88", x: 875, y: 48.8, L: [[869, 66.4], [869, 49]] },
  { t: "829.23", x: 826, y: 46.3, L: [[838, 55.8], [838, 46.5]] },
  { t: "776.90", x: 782, y: 52.7, L: [[770, 59.3], [770, 53]] },
  { t: "730.30", x: 742, y: 44.5, L: [[733, 47.6], [733, 44.5]] },
  { t: "662.80", x: 660, y: 47.0, L: [[666, 57.0], [666, 47.2]] },
  { t: "620.12", x: 639, y: 54.4, L: [[623, 58.2], [623, 53]] },
  { t: "605.89", x: 598, y: 41.0, L: [[602, 37], [602, 41]] },
  { t: "588.54", x: 581, y: 41.0 },
  { t: "571.71", x: 562, y: 58.0, L: [[574, 46.4], [574, 58]] },
  { t: "545.97", x: 545, y: 70.0 },
];

// ---------------- axis ticks ----------------
const ticksAY = [20, 40, 60, 80, 100];
const ticksBY = [60, 70, 80, 90, 100, 110];
const ticksCY = [40, 50, 60, 70, 80, 90, 100, 110];
const ticksDY = [0, 10, 20, 30, 40, 50, 60, 70, 80, 90, 100, 110];
const ticksEY = [0, 10, 20, 30, 40, 50, 60, 70, 80, 90, 100, 110];
const tickLabelsEY = ["-0", "10", "20", "30", "40", "50", "60", "70", "80", "90", "100", "110"];
const ticksX = [4000, 3500, 3000, 2500, 2000, 1500, 1000];
const ticksEX = [3500, 3000, 2500, 2000, 1500, 1000];

const FN = "'DejaVu Sans', Verdana, sans-serif";
const FA = "'Liberation Sans', Arial, Helvetica, sans-serif";

type S = d3.ScaleLinear<number, number>;

function Trace({ data, xs, ys, color, w, clip }: { data: P[]; xs: S; ys: S; color: string; w: number; clip: string }) {
  const gen = d3.line<P>().x((d) => xs(d[0])).y((d) => ys(d[1]));
  return <path d={gen(data) || ""} fill="none" stroke={color} strokeWidth={w} strokeLinejoin="round" clipPath={`url(#${clip})`} />;
}

function Labels({ labels, xs, ys, rot, clip, size, weight, ls, family }: any) {
  const gen = d3.line<P>().x((d) => xs(d[0])).y((d) => ys(d[1]));
  return (
    <g clipPath={`url(#${clip})`}>
      {labels.map((l: Lab, i: number) => (
        <g key={i}>
          {l.L && <path d={gen(l.L) || ""} fill="none" stroke="#000" strokeWidth={1} />}
          {rot ? (
            <text transform={`translate(${xs(l.x)},${ys(l.y)}) rotate(-90)`} textAnchor="end" dominantBaseline="central"
              fontFamily={family} fontSize={size} fontWeight={weight} letterSpacing={ls} fill="#000">{l.t}</text>
          ) : (
            <text x={xs(l.x)} y={ys(l.y)} dominantBaseline="central" fontFamily={family} fontSize={size}
              fontWeight={weight} letterSpacing={ls} fill="#222">{l.t}</text>
          )}
        </g>
      ))}
    </g>
  );
}

function YAxis({ ys, x0, ticks, labels, minorStep, kind }: { ys: S; x0: number; ticks: number[]; labels?: string[]; minorStep: number; kind: "ab" | "cd" }) {
  const [lo, hi] = ys.domain();
  const minor = d3.range(Math.ceil(lo / minorStep) * minorStep, hi, minorStep);
  const [yb, yt] = ys.range();
  return (
    <g>
      {kind === "ab" ? (
        <line x1={x0} x2={x0} y1={yt} y2={yb} stroke="#c6c6c6" strokeWidth={4} />
      ) : (
        <line x1={x0} x2={x0} y1={yt} y2={yb} stroke="#666" strokeWidth={1} strokeDasharray="1.5,1.5" />
      )}
      {minor.map((v) => (
        <line key={"m" + v} x1={kind === "ab" ? x0 - 4 : x0 - 2} x2={kind === "ab" ? x0 - 2 : x0 + 2} y1={ys(v)} y2={ys(v)} stroke="#000" strokeWidth={1.2} />
      ))}
      {ticks.map((v, i) => (
        <g key={v}>
          <line x1={x0 - 5} x2={x0 - (kind === "ab" ? 1 : 0)} y1={ys(v)} y2={ys(v)} stroke="#000" strokeWidth={1.3} />
          <text x={kind === "ab" ? x0 - 3 : x0 - 5} y={ys(v)} textAnchor="end" dominantBaseline="central"
            fontFamily={kind === "ab" ? FN : FA} fontSize={kind === "ab" ? 10 : 11} fontWeight={kind === "ab" ? 600 : 700}
            letterSpacing={kind === "ab" ? 4 : 2.4} fill={kind === "ab" ? "#3a3a3a" : "#222"}>
            {labels ? labels[i] : String(v)}
          </text>
        </g>
      ))}
    </g>
  );
}

function XAxis({ xs, y0, ticks, kind, labelY }: { xs: S; y0: number; ticks: number[]; kind: "ab" | "cd"; labelY: number }) {
  const [d0, d1] = xs.domain();
  const minor = d3.range(Math.floor(d0 / 100) * 100, d1, -100);
  const [x0, x1] = xs.range();
  return (
    <g>
      <line x1={x0} x2={x1} y1={y0} y2={y0} stroke={kind === "ab" ? "#c6c6c6" : "#9a9a9a"} strokeWidth={kind === "ab" ? 4 : 2.5} />
      {minor.map((v) => (
        <line key={"m" + v} x1={xs(v)} x2={xs(v)} y1={y0 - 1.5} y2={y0 + 1.5} stroke="#000" strokeWidth={1.4} />
      ))}
      {ticks.map((v) => (
        <g key={v}>
          <line x1={xs(v)} x2={xs(v)} y1={y0 - 1} y2={y0 + 4} stroke="#000" strokeWidth={1.3} />
          <text x={xs(v) + (kind === "ab" ? 2 : 1.2)} y={labelY} textAnchor="middle" dominantBaseline="central"
            fontFamily={kind === "ab" ? FN : FA} fontSize={kind === "ab" ? 10 : 11} fontWeight={kind === "ab" ? 600 : 700}
            letterSpacing={kind === "ab" ? 4 : 2.4} fill={kind === "ab" ? "#3a3a3a" : "#222"}>{v}</text>
        </g>
      ))}
    </g>
  );
}

export default function App() {
  const xAB = d3.scaleLinear().domain([4000, 635]).range([92, 1178]);
  const yA = d3.scaleLinear().domain([14.4, 112.8]).range([254, 9]);
  const yB = d3.scaleLinear().domain([54.1, 112.1]).range([507.3, 255]);
  const xCD = d3.scaleLinear().domain([4000, 507]).range([90, 1179]);
  const yC = d3.scaleLinear().domain([36.8, 113.5]).range([865, 581]);
  const yD = d3.scaleLinear().domain([-9, 114.6]).range([1242, 866]);
  const xE = d3.scaleLinear().domain([3992, 542]).range([89, 1175]);
  const yE = d3.scaleLinear().domain([-8.1, 113.5]).range([1653, 1310]);

  const yTitle = (x: number, y: number, t: string) => (
    <text transform={`translate(${x},${y}) rotate(-90)`} textAnchor="middle" dominantBaseline="central" fontFamily={FA} fontSize={9.5} fill="#000">{t}</text>
  );

  return (
    <svg width={1188} height={1684} viewBox="0 0 1188 1684" style={{ position: "absolute", left: 0, top: 0, background: "#fff" }}>
      <defs>
        <clipPath id="cA"><rect x={92} y={9} width={1086} height={245} /></clipPath>
        <clipPath id="cB"><rect x={92} y={256} width={1086} height={251} /></clipPath>
        <clipPath id="cC"><rect x={90} y={582} width={1089} height={283} /></clipPath>
        <clipPath id="cD"><rect x={90} y={867} width={1089} height={375} /></clipPath>
        <clipPath id="cE"><rect x={89} y={1311} width={1087} height={342} /></clipPath>
      </defs>
      <rect x={0} y={0} width={1188} height={1684} fill="#fff" />

      {/* ---------- group (a)/(b) ---------- */}
      <rect x={5} y={3} width={1178} height={549} fill="none" stroke="#000" strokeWidth={3} />
      <rect x={626} y={-1} width={9} height={6} fill="#fff" stroke="#9ab" strokeWidth={1} />
      <rect x={626} y={549} width={9} height={6} fill="#fff" stroke="#9ab" strokeWidth={1} />
      <line x1={92} x2={1178} y1={255.5} y2={255.5} stroke="#e6e2d4" strokeWidth={3} />
      <Trace data={specA} xs={xAB} ys={yA} color="#ff0000" w={1.2} clip="cA" />
      <Trace data={specB} xs={xAB} ys={yB} color="#ff0000" w={1.2} clip="cB" />
      <Labels labels={labelsA} xs={xAB} ys={yA} rot clip="cA" size={11.5} weight={400} ls={0} family={FA} />
      <Labels labels={labelsB} xs={xAB} ys={yB} rot clip="cB" size={11} weight={400} ls={0} family={FA} />
      <YAxis ys={yA} x0={91} ticks={ticksAY} minorStep={5} kind="ab" />
      <YAxis ys={yB} x0={91} ticks={ticksBY} minorStep={2} kind="ab" />
      <XAxis xs={xAB} y0={507.5} ticks={ticksX} kind="ab" labelY={516} />
      <text x={97} y={15} fontFamily={FN} fontSize={10} letterSpacing={1.5} fill="#333" dominantBaseline="central">(a)</text>
      <text x={97} y={267} fontFamily={FN} fontSize={10} letterSpacing={1.5} fill="#333" dominantBaseline="central">(b)</text>
      {yTitle(17, 127, "%T")}
      {yTitle(17, 378, "%T")}
      <text x={673} y={537} textAnchor="middle" dominantBaseline="central" fontFamily={FN} fontSize={10} fontWeight={600} letterSpacing={3} fill="#3a3a3a">Wavenumbers (cm -1)</text>

      {/* ---------- group (c)/(d) ---------- */}
      <rect x={6} y={581} width={1177} height={697} fill="none" stroke="#000" strokeWidth={2.5} />
      <line x1={6} x2={1183} y1={1274.5} y2={1274.5} stroke="#000" strokeWidth={1.5} />
      <line x1={1179.5} x2={1179.5} y1={866} y2={1276} stroke="#000" strokeWidth={1.5} />
      <line x1={6} x2={1183} y1={866} y2={866} stroke="#000" strokeWidth={2.5} />
      <Trace data={specC} xs={xCD} ys={yC} color="#111" w={1.5} clip="cC" />
      <Trace data={specD} xs={xCD} ys={yD} color="#111" w={1.5} clip="cD" />
      <Labels labels={labelsC} xs={xCD} ys={yC} rot={false} clip="cC" size={12} weight={700} ls={2.3} family={FA} />
      <Labels labels={labelsD} xs={xCD} ys={yD} rot={false} clip="cD" size={11.5} weight={700} ls={2} family={FA} />
      <YAxis ys={yC} x0={89} ticks={ticksCY} minorStep={2} kind="cd" />
      <YAxis ys={yD} x0={89} ticks={ticksDY} minorStep={2} kind="cd" />
      <XAxis xs={xCD} y0={1242} ticks={ticksX} kind="cd" labelY={1250} />
      <text x={101} y={597} fontFamily={FA} fontSize={20} fill="#111" dominantBaseline="central">(c)</text>
      <text x={111} y={879} fontFamily={FA} fontSize={20} fill="#111" dominantBaseline="central">(d)</text>
      {yTitle(17, 782, "%T")}
      {yTitle(17, 1036, "%T")}
      <text x={636} y={1265} textAnchor="middle" dominantBaseline="central" fontFamily={FA} fontSize={11} fontWeight={700} letterSpacing={2} fill="#222">Wavenumbers (cm-1)</text>

      {/* ---------- group (e) ---------- */}
      <rect x={7} y={1310} width={1174} height={373} fill="none" stroke="#000" strokeWidth={2} />
      <Trace data={specE} xs={xE} ys={yE} color="#111" w={1.5} clip="cE" />
      <Labels labels={labelsE} xs={xE} ys={yE} rot clip="cE" size={10} weight={400} ls={-0.3} family={FA} />
      <YAxis ys={yE} x0={89} ticks={ticksEY} labels={tickLabelsEY} minorStep={2} kind="cd" />
      <XAxis xs={xE} y0={1653} ticks={ticksEX} kind="cd" labelY={1661} />
      <text x={105} y={1333} fontFamily={FA} fontSize={19} fill="#111" dominantBaseline="central">(e)</text>
      {yTitle(17, 1439, "%T")}
      <text x={636} y={1677} textAnchor="middle" dominantBaseline="central" fontFamily={FA} fontSize={11} fontWeight={700} letterSpacing={2} fill="#222">Wavenumbers (cm-1)</text>
    </svg>
  );
}
